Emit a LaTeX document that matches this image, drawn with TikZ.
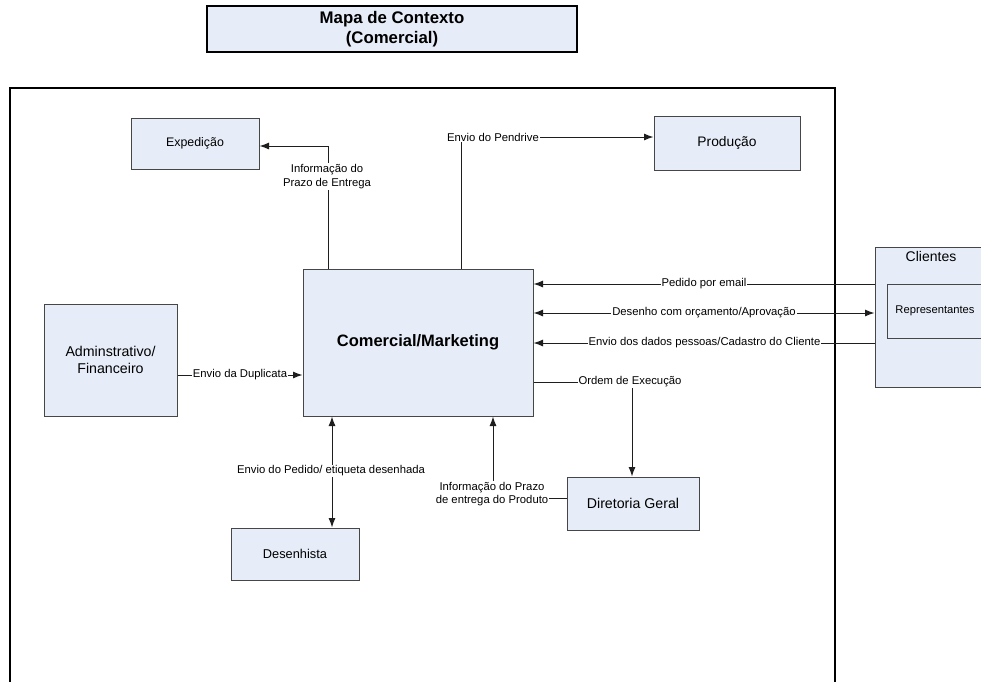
\documentclass[tikz,border=0pt]{standalone}
\usepackage{fontspec}
\setmainfont{Liberation Sans}
\usetikzlibrary{arrows.meta}
\definecolor{boxfill}{RGB}{231,237,248}
\definecolor{boxline}{RGB}{70,70,70}
\definecolor{wire}{RGB}{30,30,30}
\tikzset{
  tip/.tip={Latex[length=9.5pt,width=7pt]},
  box/.style={draw=boxline, line width=1pt, fill=boxfill, align=center, inner sep=2pt},
  wirearrow/.style={draw=wire, line width=1pt, -tip},
  wireboth/.style={draw=wire, line width=1pt, tip-tip},
  lbl/.style={fill=white, inner sep=1pt, align=center, font=\fontsize{11.3}{13.5}\selectfont},
  fs/.style={font=\fontsize{#1}{20}\selectfont}
}
\begin{document}
\begin{tikzpicture}[x=1pt,y=-1pt]
\useasboundingbox (0,0) rectangle (981,681);

% title block
\node[box, draw=black, line width=2.5pt, minimum width=370, minimum height=46,
      font=\fontsize{16.8}{20.5}\selectfont\bfseries] (title) at (392,29)
      {Mapa de Contexto\\(Comercial)};

% outer boundary of the company
\draw[black, line width=2.5pt] (10,700) -- (10,88) -- (835,88) -- (835,700);

% external entities
\node[box, minimum width=110, minimum height=140] (cli) at (930,317) {};
\node[fs=14] (clitxt) at (931,256) {Clientes};
\node[box, minimum width=96, minimum height=54, fs=11.2] (rep) at (935,311) {Representantes};

% internal areas
\node[box, minimum width=128, minimum height=51, fs=12.4] (exp) at (195,143.5) {Expedição};
\node[box, minimum width=146, minimum height=54, fs=13.8] (prod) at (727,143) {Produção};
\node[box, minimum width=230, minimum height=147, font=\fontsize{16.5}{19}\selectfont\bfseries] (com) at (418,342.5) {Comercial/Marketing};
\node[box, minimum width=133, minimum height=112, font=\fontsize{14.2}{17}\selectfont] (adm) at (110.5,360) {Adminstrativo/\\Financeiro};
\node[box, minimum width=132, minimum height=53, fs=14.2] (dir) at (633,503.5) {Diretoria Geral};
\node[box, minimum width=128, minimum height=52, fs=12.8] (des) at (295,554) {Desenhista};

% routing points
\coordinate (pExp) at (328,146);
\coordinate (pPen) at (461,137);
\coordinate (pEmail) at (700,284);
\coordinate (pDes) at (700,313);
\coordinate (pDados) at (700,343);
\coordinate (pOrd) at (632,382);
\coordinate (pDup) at (240,375);
\coordinate (pPed) at (332,470);
\coordinate (pPrazo) at (493,498);

% flows
\draw[wirearrow] (pExp |- com.north) -- (pExp) -- (pExp -| exp.east);
\draw[wirearrow] (pPen |- com.north) -- (pPen) -- (pPen -| prod.west);
\draw[wirearrow] (pEmail -| cli.west) -- (pEmail -| com.east);
\draw[wireboth] (pDes -| com.east) -- (pDes -| cli.west);
\draw[wirearrow] (pDados -| cli.west) -- (pDados -| com.east);
\draw[wirearrow] (pOrd -| com.east) -- (pOrd) -- (pOrd |- dir.north);
\draw[wirearrow] (pDup -| adm.east) -- (pDup -| com.west);
\draw[wireboth] (pPed |- com.south) -- (pPed |- des.north);
\draw[wirearrow] (pPrazo -| dir.west) -- (pPrazo) -- (pPrazo |- com.south);

% flow labels
\node[lbl] (lExp) at (327,176.5) {Informação do\\Prazo de Entrega};
\node[lbl] (lPen) at (493,137) {Envio do Pendrive};
\node[lbl] (lEmail) at (704,284) {Pedido por email};
\node[lbl] (lDes) at (704,313) {Desenho com orçamento/Aprovação};
\node[lbl] (lDados) at (704.5,343) {Envio dos dados pessoas/Cadastro do Cliente};
\node[lbl] (lOrd) at (630,382) {Ordem de Execução};
\node[lbl] (lDup) at (240,375) {Envio da Duplicata};
\node[lbl] (lPed) at (331,471) {Envio do Pedido/ etiqueta desenhada};
\node[lbl] (lPrazo) at (492,494) {Informação do Prazo\\de entrega do Produto};
\end{tikzpicture}
\end{document}
